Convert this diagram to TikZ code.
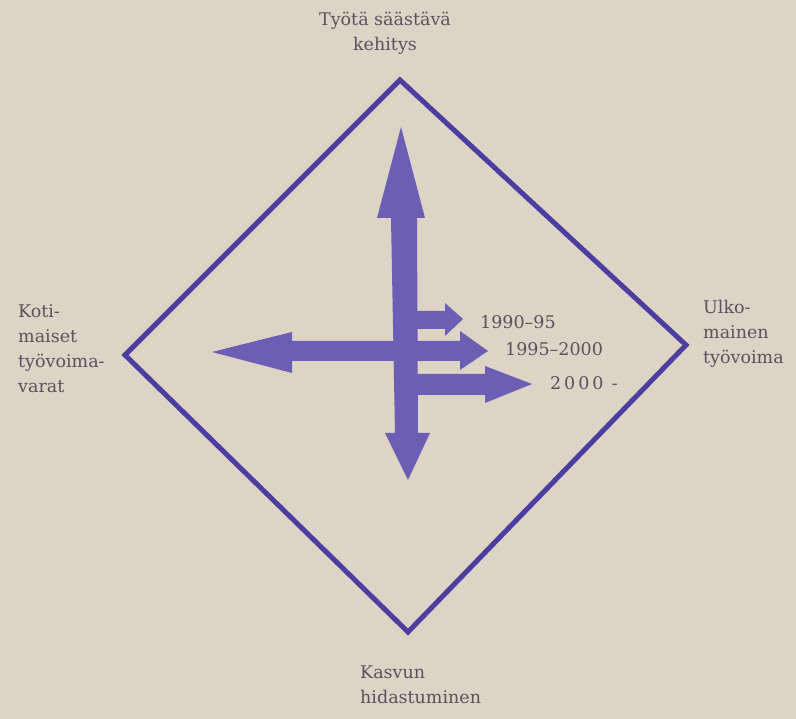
\documentclass[tikz,border=0pt]{standalone}
\usepackage{fontspec}
\setmainfont{DejaVu Serif}
\definecolor{paper}{RGB}{222,212,198}
\definecolor{frame}{RGB}{76,62,160}
\definecolor{arrowfill}{RGB}{108,94,180}
\definecolor{ink}{RGB}{88,82,92}

\begin{document}
\begin{tikzpicture}[x=1pt, y=-1pt,
    every node/.style={font=\fontsize{17.5}{25}\selectfont, text=ink, inner sep=0pt},
    frameline/.style={draw=frame, line width=5pt, line join=miter},
    blockarrow/.style={fill=arrowfill}]
  % Hintergrund
  \fill[paper] (0,0) rectangle (796,719);
  \useasboundingbox (0,0) rectangle (796,719);

  % Raute
  \coordinate (top) at (400,80);
  \coordinate (right) at (686,345);
  \coordinate (bottom) at (408,632);
  \coordinate (left) at (125,355);
  \draw[frameline] (top) -- (right) -- (bottom) -- (left) -- cycle;

  % Waagerechter Doppelpfeil (1995-2000)
  \fill[blockarrow] (212,352) -- (292,332) -- (292,341) -- (460,341) -- (460,331)
    -- (488,351) -- (460,370) -- (460,361) -- (292,361) -- (292,373) -- cycle;
  % Pfeil 1990-95
  \fill[blockarrow] (410,311) -- (445,311) -- (445,303) -- (463,319) -- (445,336)
    -- (445,329) -- (410,329) -- cycle;
  % Pfeil 2000-
  \fill[blockarrow] (410,374) -- (485,374) -- (485,366) -- (532,384) -- (485,403)
    -- (485,395) -- (410,395) -- cycle;
  % Senkrechter Doppelpfeil
  \fill[blockarrow] (401,127) -- (425,218) -- (417,218) -- (418,433) -- (430,433)
    -- (408,480) -- (385,433) -- (395,433) -- (391,218) -- (377,218) -- cycle;

  % Jahreszahlen
  \node[anchor=west] (y1) at (480,322) {1990–95};
  \node[anchor=west] (y2) at (505,349) {1995–2000};
  \node[anchor=west] (y3) at (550,383) {2\,0\,0\,0\, -};

  % Beschriftung der Ecken
  \node[anchor=north, align=center] (labtop) at (385,12) {Työtä säästävä\\kehitys};
  \node[anchor=north west, align=left] (lableft) at (18,304) {Koti-\\maiset\\työvoima-\\varat};
  \node[anchor=north west, align=left] (labright) at (703,300) {Ulko-\\mainen\\työvoima};
  \node[anchor=north west, align=left] (labbottom) at (360,666) {Kasvun\\hidastuminen};
\end{tikzpicture}
\end{document}
